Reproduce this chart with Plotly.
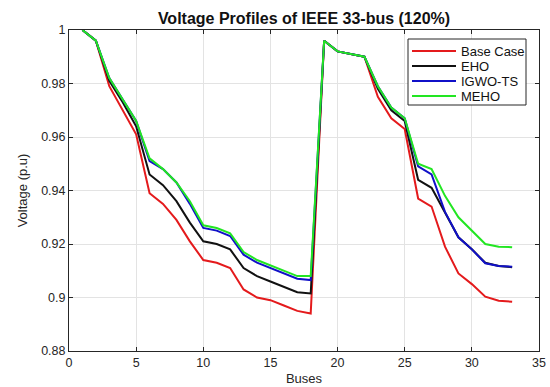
import plotly.graph_objects as go

buses = list(range(1, 34))

base_case = [1.000, 0.996, 0.979, 0.970, 0.961, 0.939, 0.935, 0.929, 0.921, 0.914,
             0.913, 0.911, 0.903, 0.900, 0.899, 0.897, 0.895, 0.894, 0.996, 0.992,
             0.991, 0.990, 0.975, 0.967, 0.963, 0.937, 0.934, 0.919, 0.909, 0.905,
             0.9003, 0.8988, 0.8984]
eho = [1.000, 0.996, 0.981, 0.973, 0.964, 0.946, 0.942, 0.936, 0.928, 0.921,
       0.920, 0.918, 0.911, 0.908, 0.906, 0.904, 0.902, 0.9015, 0.996, 0.992,
       0.991, 0.990, 0.978, 0.970, 0.966, 0.944, 0.941, 0.932, 0.9225, 0.918,
       0.913, 0.9118, 0.9113]
igwo_ts = [1.000, 0.996, 0.982, 0.974, 0.966, 0.951, 0.948, 0.943, 0.935, 0.926,
           0.925, 0.923, 0.916, 0.913, 0.911, 0.909, 0.907, 0.9065, 0.996, 0.992,
           0.991, 0.990, 0.979, 0.971, 0.967, 0.949, 0.946, 0.932, 0.9225, 0.918,
           0.9128, 0.9118, 0.9115]
meho = [1.000, 0.996, 0.982, 0.974, 0.966, 0.952, 0.948, 0.943, 0.936, 0.927,
        0.926, 0.924, 0.917, 0.914, 0.912, 0.910, 0.908, 0.908, 0.996, 0.992,
        0.991, 0.990, 0.979, 0.971, 0.967, 0.950, 0.948, 0.938, 0.930, 0.925,
        0.920, 0.919, 0.9188]

series_names = ["Base Case", "EHO", "IGWO-TS", "MEHO"]
series_values = [base_case, eho, igwo_ts, meho]
series_colors = ["#e41a1c", "#111111", "#1010c8", "#22e622"]

x_ticks = [0, 5, 10, 15, 20, 25, 30, 35]
y_ticks = [0.88, 0.90, 0.92, 0.94, 0.96, 0.98, 1.0]
y_tick_labels = ["0.88", "0.9", "0.92", "0.94", "0.96", "0.98", "1"]

W, H = 550, 387
L, R, T, B = 69, 11, 30, 36
pw, ph = W - L - R, H - T - B


def px(xp):
    return (xp - L) / pw


def py(yp):
    return (H - B - yp) / ph


fig = go.Figure()
for name, vals, color in zip(series_names, series_values, series_colors):
    fig.add_trace(go.Scatter(x=buses, y=vals, mode="lines", name=name,
                             line=dict(color=color, width=2), showlegend=False))

axis_common = dict(showline=True, linecolor="#262626", linewidth=1, mirror="ticks",
                   ticks="inside", ticklen=4, tickcolor="#262626",
                   showgrid=True, gridcolor="#e3e3e3", gridwidth=1,
                   zeroline=False, automargin=False,
                   tickfont=dict(size=12.5, color="#262626"))

# Legend box (MATLAB-style) drawn in paper coordinates
shapes = [dict(type="rect", xref="paper", yref="paper",
               x0=px(408), x1=px(526), y0=py(105), y1=py(39),
               fillcolor="white", line=dict(color="#262626", width=1), layer="above")]
annotations = []
row_y = [51, 66, 81, 96]
for name, color, ry in zip(series_names, series_colors, row_y):
    shapes.append(dict(type="line", xref="paper", yref="paper",
                       x0=px(412), x1=px(456), y0=py(ry), y1=py(ry),
                       line=dict(color=color, width=2), layer="above"))
    annotations.append(dict(text=name, xref="paper", yref="paper",
                            x=px(459), y=py(ry), xanchor="left", yanchor="middle",
                            showarrow=False, font=dict(size=13, color="#111111")))

fig.update_layout(
    width=W, height=H,
    margin=dict(l=L, r=R, t=T, b=B),
    paper_bgcolor="white", plot_bgcolor="white",
    font=dict(family="Liberation Sans, Arial, sans-serif", color="#262626"),
    title=dict(text="<b>Voltage Profiles of IEEE 33-bus (120%)</b>",
               x=0.5, xanchor="center", xref="paper", y=1 - 18 / H, yanchor="middle",
               yref="container", font=dict(size=16, color="#111111")),
    xaxis=dict(range=[0, 35], tickvals=x_ticks,
               title=dict(text="Buses", standoff=4, font=dict(size=13)),
               **axis_common),
    yaxis=dict(range=[0.88, 1.0], tickvals=y_ticks, ticktext=y_tick_labels,
               title=dict(text="Voltage (p.u)", standoff=10, font=dict(size=13)),
               **axis_common),
    shapes=shapes,
    annotations=annotations,
    showlegend=False,
)

fig.write_html("out.html", config={"displayModeBar": False},
               post_script="document.body.style.margin='0';document.body.style.padding='0';")
